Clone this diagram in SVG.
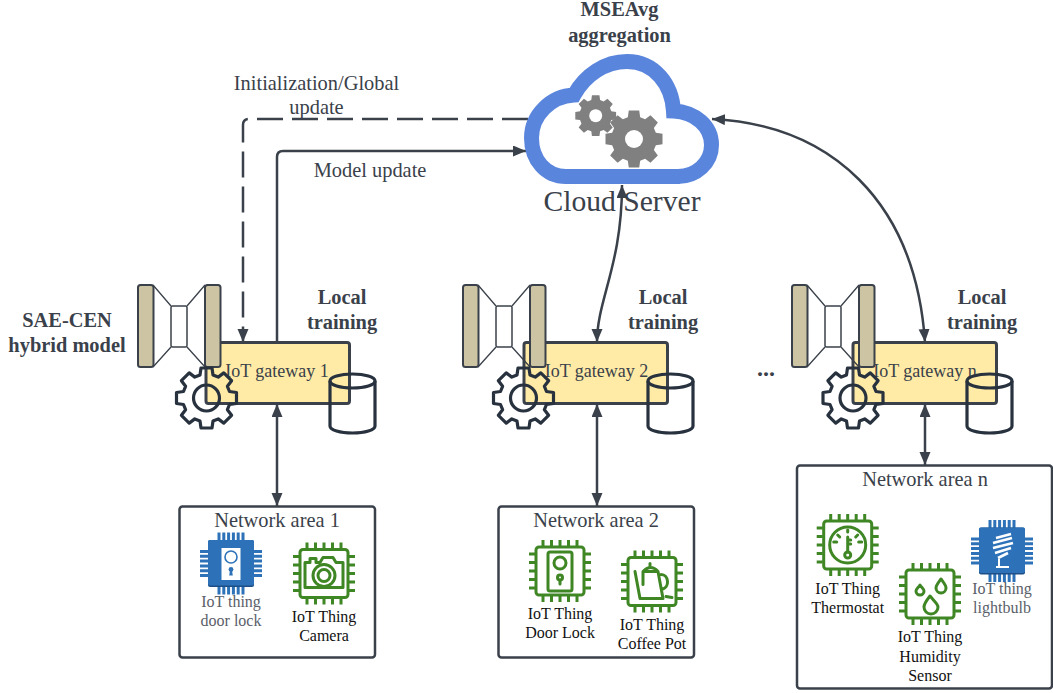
<svg xmlns="http://www.w3.org/2000/svg" xmlns:xlink="http://www.w3.org/1999/xlink" width="1053" height="693" viewBox="0 0 1053 693">
<style>
text{font-family:"Liberation Serif",serif;font-size:20.400px;fill:#3a414a;text-anchor:middle}
.b{font-weight:bold}
.gw{font-size:18px}
.cap{font-size:16px;fill:#111}
.capb{font-size:16px;fill:#5a6069}
.line{fill:none;stroke:#3a414a;stroke-width:2.500}
.gwbox{fill:#ffeba6;stroke:#3a414a;stroke-width:3}
.area{fill:#fff;stroke:#3a414a;stroke-width:2.500}
.bar{fill:#cdc4a4;stroke:#3a414a;stroke-width:2}
.thin{fill:none;stroke:#3a414a;stroke-width:1.300}
.cfg{fill:none;stroke:#28323f;stroke-width:3.200;stroke-linejoin:round}
.g{fill:none;stroke:#3f8624;stroke-width:3;stroke-linecap:round;stroke-linejoin:round}
.pin{fill:none;stroke:#3f8624;stroke-width:3}
.bpin{fill:none;stroke:#2d72b8;stroke-width:3}
</style>
<defs>
<marker id="ah" markerUnits="userSpaceOnUse" markerWidth="14" markerHeight="12" refX="13" refY="5.500" orient="auto-start-reverse"><path d="M0 0L13 5.500L0 11Z" fill="#3a414a"/></marker>
<path id="gearp" d="M-6.500-23L-5.500-30L5.500-30L6.500-23L11.700-20.900L17.300-25.100L25.100-17.300L20.900-11.700L23-6.500L30-5.500L30 5.500L23 6.500L20.900 11.700L25.100 17.300L17.300 25.100L11.700 20.900L6.500 23L5.500 30L-5.500 30L-6.500 23L-11.700 20.900L-17.300 25.100L-25.100 17.300L-20.900 11.700L-23 6.500L-30 5.500L-30-5.500L-23-6.500L-20.900-11.700L-25.100-17.300L-17.300-25.100L-11.700-20.900Z"/>
<g id="ae">
<path class="thin" d="M153 285L171 306M153 367L171 347M205 285L187 306M205 367L187 347"/>
<rect class="bar" x="138" y="285" width="15.500" height="82" rx="2.500"/>
<rect class="bar" x="205" y="285" width="15.500" height="82" rx="2.500"/>
<rect x="171" y="306" width="16" height="41" rx="1.500" fill="none" stroke="#3a414a" stroke-width="1.500"/>
</g>
<g id="cfg"><use xlink:href="#gearp" class="cfg"/><circle r="13" class="cfg"/></g>
<g id="cyl"><path class="cfg" d="M0 0V45C0 49 10 52 22.500 52S45 49 45 45V0"/><ellipse class="cfg" cx="22.500" cy="0" rx="22.500" ry="7"/></g>
<g id="gc">
<rect class="g" x="-24" y="-24" width="48" height="48" rx="3"/>
<path class="pin" d="M-17-25V-31M-8.500-25V-31M0-25V-31M8.500-25V-31M17-25V-31M-17 25V31M-8.500 25V31M0 25V31M8.500 25V31M17 25V31M-25-17H-31M-25-8.500H-31M-25 0H-31M-25 8.500H-31M-25 17H-31M25-17H31M25-8.500H31M25 0H31M25 8.500H31M25 17H31"/>
</g>
<g id="bc">
<path class="bpin" d="M-12-23V-31M-7.200-23V-31M-2.400-23V-31M2.400-23V-31M7.200-23V-31M12-23V-31M-12 23V31M-7.200 23V31M-2.400 23V31M2.400 23V31M7.200 23V31M12 23V31M-23-12H-31M-23-7.200H-31M-23-2.400H-31M-23 2.400H-31M-23 7.200H-31M-23 12H-31M23-12H31M23-7.200H31M23-2.400H31M23 2.400H31M23 7.200H31M23 12H31"/>
<rect x="-23" y="-23.500" width="46" height="47" rx="2" fill="#1d4f86"/>
<rect x="-23" y="-23.500" width="46" height="45.500" rx="2" fill="#2d72b8"/>
</g>
</defs>

<g id="connectors">
<path class="line" d="M528 119H249Q243 119 243 125V342" stroke-dasharray="26 9" marker-end="url(#ah)"/>
<path class="line" d="M277 342V157Q277 151 283 151H526" marker-end="url(#ah)"/>
<path class="line" d="M277 404V506" marker-start="url(#ah)" marker-end="url(#ah)"/>
<path class="line" d="M597 404V506" marker-start="url(#ah)" marker-end="url(#ah)"/>
<path class="line" d="M925 404V465" marker-start="url(#ah)" marker-end="url(#ah)"/>
</g>

<g id="cloud-server">
<path fill="#fff" stroke="#5a85dd" stroke-width="15" d="M566 176.500C546 176.500 531.500 160 531.500 138C531.500 115 551 96 574 95C585 75 605 61.500 627 61.500C655 61.500 672 85 673.500 111C695 112 711.500 126 711.500 145C711.500 163 696 176.500 678 176.500Z"/>
<use xlink:href="#gearp" fill="#808080" transform="translate(634 139) scale(.95)"/>
<circle cx="634" cy="139" r="9" fill="#fff"/>
<use xlink:href="#gearp" fill="#808080" transform="translate(595.700 115.700) scale(.68)"/>
<circle cx="595.700" cy="115.700" r="6.500" fill="#fff"/>
<rect x="590" y="169" width="90" height="15" fill="#5a85dd"/>
<text x="622" y="211" style="font-size:29.600px">Cloud Server</text>
<text class="b" x="619.500" y="16">MSEAvg</text>
<text class="b" x="619.500" y="42">aggregation</text>
</g>

<g id="connectors-curved">
<path class="line" d="M597 342C597 300 622 265 622 185" marker-start="url(#ah)" marker-end="url(#ah)"/>
<path class="line" d="M712 119C830 125 915 200 925 342" marker-start="url(#ah)" marker-end="url(#ah)"/>
</g>

<g id="labels">
<text x="316.500" y="90">Initialization/Global</text>
<text x="316.500" y="114">update</text>
<text x="370" y="177">Model update</text>
<text class="b" x="67" y="327">SAE-CEN</text>
<text class="b" x="67" y="352">hybrid model</text>
<text class="b" x="766" y="376" style="font-size:24px">...</text>
</g>

<g id="gateway-1">
<rect class="gwbox" x="206" y="342.500" width="143.500" height="61" rx="2.500"/>
<text class="gw" x="277" y="377">IoT gateway 1</text>
<use xlink:href="#ae"/>
<use xlink:href="#cfg" x="206.500" y="398"/>
<use xlink:href="#cyl" x="330" y="381"/>
<text class="b" x="342" y="304">Local</text>
<text class="b" x="342" y="329">training</text>
</g>
<g id="gateway-2">
<rect class="gwbox" x="524" y="342.500" width="143.500" height="61" rx="2.500"/>
<text class="gw" x="596.500" y="377">IoT gateway 2</text>
<use xlink:href="#ae" x="325"/>
<use xlink:href="#cfg" x="523.500" y="398"/>
<use xlink:href="#cyl" x="648" y="381"/>
<text class="b" x="663" y="304">Local</text>
<text class="b" x="663" y="329">training</text>
</g>
<g id="gateway-n">
<rect class="gwbox" x="853" y="342.500" width="143.500" height="61" rx="2.500"/>
<text class="gw" x="925" y="377">IoT gateway n</text>
<use xlink:href="#ae" x="654"/>
<use xlink:href="#cfg" x="853" y="398"/>
<use xlink:href="#cyl" x="967" y="381"/>
<text class="b" x="982" y="304">Local</text>
<text class="b" x="982" y="329">training</text>
</g>

<g id="network-area-1">
<rect class="area" x="179.500" y="506.500" width="195.500" height="151" rx="3"/>
<text x="277" y="527">Network area 1</text>
</g>
<g id="network-area-2">
<rect class="area" x="498.500" y="506.500" width="195.500" height="151" rx="3"/>
<text x="596" y="527">Network area 2</text>
</g>
<g id="network-area-n">
<rect class="area" x="797" y="465.500" width="255" height="223" rx="3"/>
<text x="925" y="486">Network area n</text>
</g>

<g id="thing-door-lock-blue" transform="translate(231 563.500)">
<use xlink:href="#bc"/>
<rect x="-9.500" y="-15.500" width="19" height="32" fill="#fff"/>
<circle cx="0" cy="-6.500" r="6" fill="none" stroke="#2d72b8" stroke-width="1.600"/>
<circle cx="0" cy="6" r="2.400" fill="#2d72b8"/><path d="M-1 7H1L1.800 12H-1.800Z" fill="#2d72b8"/>
<text class="capb" x="0" y="43.500">IoT thing</text>
<text class="capb" x="0" y="62.500">door lock</text>
</g>
<g id="thing-camera" transform="translate(324 573.500)">
<use xlink:href="#gc"/>
<path class="g" d="M-19-11H-14V-15H-8V-11H-4L-1-16H9L12-11H19V14H-19Z"/>
<circle class="g" cx="0" cy="2" r="11"/><circle class="g" cx="0" cy="2" r="6"/>
<text class="cap" x="0" y="48.500">IoT Thing</text>
<text class="cap" x="0" y="67.500">Camera</text>
</g>
<g id="thing-door-lock" transform="translate(560 571)">
<use xlink:href="#gc"/>
<rect class="g" x="-12" y="-19" width="24" height="39" rx="2"/>
<circle class="g" cx="0" cy="-8" r="6"/>
<circle class="g" cx="0" cy="6.500" r="2.500"/><path class="g" d="M0 9V13"/>
<text class="cap" x="0" y="48">IoT Thing</text>
<text class="cap" x="0" y="67">Door Lock</text>
</g>
<g id="thing-coffee-pot" transform="translate(652 581.500)">
<use xlink:href="#gc"/>
<path class="g" d="M-17-10L-12 17H11L6-10Q-1-18-9-10L-9 3M-9-10H6M9-7C17-7 18 6 10 8M-2-16V-18"/>
<path class="g" d="M14 15L20 16"/>
<text class="cap" x="0" y="48.500">IoT Thing</text>
<text class="cap" x="0" y="67.500">Coffee Pot</text>
</g>
<g id="thing-thermostat" transform="translate(847.700 545)">
<use xlink:href="#gc"/>
<circle class="g" cx="0" cy="0" r="18"/>
<path class="g" d="M-14-3L-11-3M-10-10L-8-8M0-15V-13M10-10L8-8M14-3L11-3"/>
<path class="g" d="M0-8V7M0-5H3M0-1H3"/><circle class="g" cx="0" cy="10" r="3"/>
<text class="cap" x="0" y="49">IoT Thing</text>
<text class="cap" x="0" y="68">Thermostat</text>
</g>
<g id="thing-humidity" transform="translate(930 594)">
<use xlink:href="#gc"/>
<path class="g" d="M-1 1C-5 6-7 9-7 12A7 7 0 0 0 7 12C7 9 3 6-1 1Z" transform="translate(1 1)"/>
<path class="g" d="M11-15C8-11 6-9 6-6A5 5 0 0 0 16-6C16-9 14-11 11-15Z"/>
<path class="g" d="M-10-9C-12-6-14-5-14-3A4 4 0 0 0-6-3C-6-5-8-6-10-9Z"/>
<text class="cap" x="0" y="48">IoT Thing</text>
<text class="cap" x="0" y="68">Humidity</text>
<text class="cap" x="0" y="87">Sensor</text>
</g>
<g id="thing-lightbulb" transform="translate(1002 551)">
<use xlink:href="#bc"/>
<path fill="none" stroke="#fff" stroke-width="2.600" d="M-6-13L9-17M-9-8L10-13M-9-3L11-8M-7 2L9-3M-4 7L6 2"/>
<path fill="none" stroke="#fff" stroke-width="2" d="M-3 8V16M-6 16H7"/>
<text class="capb" x="0" y="43">IoT thing</text>
<text class="capb" x="0" y="62">lightbulb</text>
</g>
</svg>
